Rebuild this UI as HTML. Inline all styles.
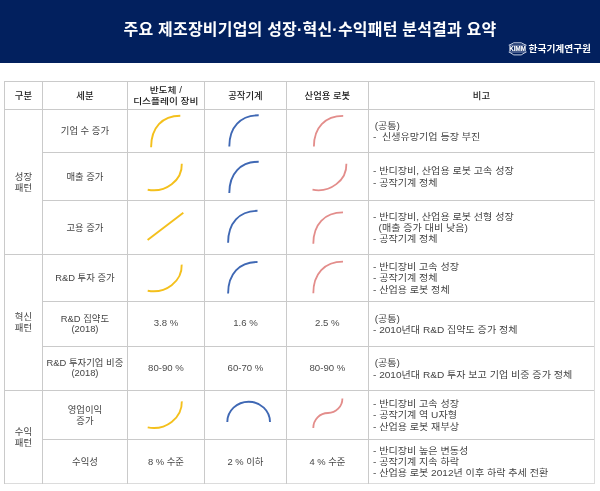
<!DOCTYPE html>
<html lang="ko"><head><meta charset="utf-8"><title>주요 제조장비기업의 성장·혁신·수익패턴 분석결과 요약</title>
<style>
html,body{margin:0;padding:0;background:#fff;}
body{width:600px;height:491px;position:relative;overflow:hidden;font-family:"Liberation Sans","Noto Sans CJK KR",sans-serif;color:#3a3a3a;}
.hdr{position:absolute;left:0;top:0;width:600px;height:62.8px;background:#02205e;}
.title{position:absolute;left:0;top:14.6px;width:620px;text-align:center;color:#fff;font-weight:700;font-size:16px;line-height:30px;white-space:nowrap;letter-spacing:0.2px;}
.logo{position:absolute;left:528.6px;top:39px;color:#fff;font-weight:700;font-size:9.7px;line-height:20px;white-space:nowrap;letter-spacing:0;transform:scale(1.0,0.93);transform-origin:0 60%;}
.c{position:absolute;display:flex;align-items:center;justify-content:center;text-align:center;font-size:9.4px;line-height:11.2px;white-space:nowrap;font-weight:400;color:#444;padding-top:0.4px;box-sizing:border-box;}
.h{font-weight:500;color:#1c1c1c;font-size:9.35px;padding-top:2px;}
.h2 div{transform:translate(-0.6px,0.5px) scale(1.04,0.885);line-height:13px;}
.v div{position:relative;top:-0.9px;font-size:9.6px;color:#4c4c4c;}
.u{position:relative;top:-1.2px;}
.p{padding-left:1.6px;}
.n{position:absolute;display:flex;align-items:center;justify-content:flex-start;text-align:left;font-size:9.4px;line-height:11.2px;white-space:pre;font-weight:400;color:#444;padding-top:0.6px;box-sizing:border-box;transform:scaleX(1.075);transform-origin:0 50%;}
svg{position:absolute;left:0;top:0;}
</style></head><body>

<div class="hdr"></div>
<div class="title">주요 제조장비기업의 성장·혁신·수익패턴 분석결과 요약</div>
<div class="logo">한국기계연구원</div>
<svg width="600" height="491" viewBox="0 0 600 491" fill="none">
<rect x="4" y="81" width="591" height="1" fill="#cacaca"/>
<rect x="4" y="109" width="591" height="1" fill="#cacaca"/>
<rect x="42" y="152" width="553" height="1" fill="#cacaca"/>
<rect x="42" y="200" width="553" height="1" fill="#cacaca"/>
<rect x="4" y="254" width="591" height="1" fill="#cacaca"/>
<rect x="42" y="301" width="553" height="1" fill="#cacaca"/>
<rect x="42" y="346" width="553" height="1" fill="#cacaca"/>
<rect x="4" y="390" width="591" height="1" fill="#cacaca"/>
<rect x="42" y="439" width="553" height="1" fill="#cacaca"/>
<rect x="4" y="483" width="591" height="1" fill="#dcdcdc"/>
<rect x="4" y="81" width="1" height="403" fill="#cacaca"/>
<rect x="42" y="81" width="1" height="403" fill="#cacaca"/>
<rect x="127" y="81" width="1" height="403" fill="#cacaca"/>
<rect x="204" y="81" width="1" height="403" fill="#cacaca"/>
<rect x="286" y="81" width="1" height="403" fill="#cacaca"/>
<rect x="368" y="81" width="1" height="403" fill="#cacaca"/>
<rect x="594" y="81" width="1" height="403" fill="#dcdcdc"/>
<path d="M151.1,147.2 C151.10,127.73 162.20,115.80 180.3,115.8" stroke="#f4c01c" stroke-width="1.9" stroke-linecap="butt"/>
<path d="M229.3,146.5 C229.30,127.16 240.47,115.30 258.7,115.3" stroke="#3f68b4" stroke-width="1.9" stroke-linecap="butt"/>
<path d="M313.9,146.5 C313.90,127.53 325.03,115.90 343.2,115.9" stroke="#e38d8b" stroke-width="1.8" stroke-linecap="butt"/>
<path d="M147.7,189.7 A28.3,25.8 0 0 0 181.8,163.7" stroke="#f4c01c" stroke-width="1.9" stroke-linecap="butt"/>
<path d="M229.3,192.9 C229.30,173.56 240.47,161.70 258.7,161.7" stroke="#3f68b4" stroke-width="1.9" stroke-linecap="butt"/>
<path d="M312.5,189.7 A28.3,25.8 0 0 0 346.4,163.7" stroke="#e38d8b" stroke-width="1.8" stroke-linecap="butt"/>
<path d="M147.6,240.1 L183.3,212.7" stroke="#f4c01c" stroke-width="1.9" stroke-linecap="butt"/>
<path d="M228.1,242.8 C228.10,222.96 239.27,210.80 257.5,210.8" stroke="#3f68b4" stroke-width="1.9" stroke-linecap="butt"/>
<path d="M313.3,243.7 C313.30,224.29 324.59,212.40 343,212.4" stroke="#e38d8b" stroke-width="1.8" stroke-linecap="butt"/>
<path d="M147.7,290.7 A28.3,25.8 0 0 0 181.7,264.6" stroke="#f4c01c" stroke-width="1.9" stroke-linecap="butt"/>
<path d="M228.1,293.5 C228.10,273.97 239.27,262.00 257.5,262" stroke="#3f68b4" stroke-width="1.9" stroke-linecap="butt"/>
<path d="M313.3,293.3 C313.30,273.65 324.59,261.60 343,261.6" stroke="#e38d8b" stroke-width="1.8" stroke-linecap="butt"/>
<path d="M147.7,427.4 A28.3,25.8 0 0 0 181.8,401.4" stroke="#f4c01c" stroke-width="1.9" stroke-linecap="butt"/>
<path d="M227.3,422 A21.35,20.3 0 0 1 270,422" stroke="#3f68b4" stroke-width="1.9" stroke-linecap="butt"/>
<path d="M313.3,428 A14.7,15 0 0 1 328,413 A14.4,14.6 0 0 0 342.4,398.4" stroke="#e38d8b" stroke-width="1.8" stroke-linecap="butt"/>
<g><path d="M509,45.3 L513.8,42.8 L521.2,42.8 L526.2,45.3 M509,51.9 L513.8,54.9 L521.2,54.9 L526.2,51.9" stroke="#dfe5f3" stroke-width="0.9" stroke-linejoin="round"/><path d="M508.6,45.2 H526.6 M508.6,52 H526.6" stroke="#c5cde4" stroke-width="0.7"/><text x="517.6" y="51.25" text-anchor="middle" font-family="Liberation Sans, sans-serif" font-weight="700" font-size="7.6" fill="#fff" stroke="#fff" stroke-width="0.2" textLength="16.6" lengthAdjust="spacingAndGlyphs">KIMM</text></g>
</svg>
<div class="c h" style="left:4.4px;top:81.4px;width:38.1px;height:27.9px;"><div>구분</div></div>
<div class="c h" style="left:42.5px;top:81.4px;width:84.9px;height:27.9px;"><div>세분</div></div>
<div class="c h h2" style="left:127.4px;top:81.4px;width:77.1px;height:27.9px;"><div>반도체 /<br>디스플레이 장비</div></div>
<div class="c h" style="left:204.5px;top:81.4px;width:81.9px;height:27.9px;"><div>공작기계</div></div>
<div class="c h" style="left:286.4px;top:81.4px;width:82.0px;height:27.9px;"><div>산업용 로봇</div></div>
<div class="c h" style="left:368.4px;top:81.4px;width:226.1px;height:27.9px;"><div>비고</div></div>
<div class="c" style="left:4.4px;top:109.3px;width:38.1px;height:144.9px;"><div>성장<br>패턴</div></div>
<div class="c" style="left:4.4px;top:254.2px;width:38.1px;height:136.2px;"><div>혁신<br>패턴</div></div>
<div class="c" style="left:4.4px;top:390.4px;width:38.1px;height:93.4px;"><div>수익<br>패턴</div></div>
<div class="c" style="left:42.5px;top:109.3px;width:84.9px;height:43.1px;"><div>기업 수 증가</div></div>
<div class="c" style="left:42.5px;top:152.4px;width:84.9px;height:48.0px;"><div>매출 증가</div></div>
<div class="c" style="left:42.5px;top:200.4px;width:84.9px;height:53.8px;"><div>고용 증가</div></div>
<div class="c" style="left:42.5px;top:254.2px;width:84.9px;height:47.0px;"><div>R&amp;D 투자 증가</div></div>
<div class="c" style="left:42.5px;top:301.2px;width:84.9px;height:45.1px;"><div>R&amp;D 집약도<br><span class="u">(2018)</span></div></div>
<div class="c" style="left:42.5px;top:346.3px;width:84.9px;height:44.1px;"><div>R&amp;D 투자기업 비중<br><span class="u">(2018)</span></div></div>
<div class="c" style="left:42.5px;top:390.4px;width:84.9px;height:48.8px;"><div>영업이익<br>증가</div></div>
<div class="c" style="left:42.5px;top:439.2px;width:84.9px;height:44.6px;"><div>수익성</div></div>
<div class="c v" style="left:127.4px;top:301.2px;width:77.1px;height:45.1px;"><div>3.8 %</div></div>
<div class="c v" style="left:204.5px;top:301.2px;width:81.9px;height:45.1px;"><div>1.6 %</div></div>
<div class="c v" style="left:286.4px;top:301.2px;width:82.0px;height:45.1px;"><div>2.5 %</div></div>
<div class="c v" style="left:127.4px;top:346.3px;width:77.1px;height:44.1px;"><div>80-90 %</div></div>
<div class="c v" style="left:204.5px;top:346.3px;width:81.9px;height:44.1px;"><div>60-70 %</div></div>
<div class="c v" style="left:286.4px;top:346.3px;width:82.0px;height:44.1px;"><div>80-90 %</div></div>
<div class="c" style="left:127.4px;top:439.2px;width:77.1px;height:44.6px;"><div>8 % 수준</div></div>
<div class="c" style="left:204.5px;top:439.2px;width:81.9px;height:44.6px;"><div>2 % 이하</div></div>
<div class="c" style="left:286.4px;top:439.2px;width:82.0px;height:44.6px;"><div>4 % 수준</div></div>
<div class="n" style="left:373.3px;top:109.3px;width:221.1px;height:43.1px;"><div><span class="p">(공통)</span>
-  신생유망기업 등장 부진</div></div>
<div class="n" style="left:373.3px;top:152.4px;width:221.1px;height:48.0px;"><div>- 반디장비, 산업용 로봇 고속 성장
- 공작기계 정체</div></div>
<div class="n" style="left:373.3px;top:200.4px;width:221.1px;height:53.8px;"><div>- 반디장비, 산업용 로봇 선형 성장
  (매출 증가 대비 낮음)
- 공작기계 정체</div></div>
<div class="n" style="left:373.3px;top:254.2px;width:221.1px;height:47.0px;"><div>- 반디장비 고속 성장
- 공작기계 정체
- 산업용 로봇 정체</div></div>
<div class="n" style="left:373.3px;top:301.2px;width:221.1px;height:45.1px;"><div><span class="p">(공통)</span>
- 2010년대 R&amp;D 집약도 증가 정체</div></div>
<div class="n" style="left:373.3px;top:346.3px;width:221.1px;height:44.1px;"><div><span class="p">(공통)</span>
- 2010년대 R&amp;D 투자 보고 기업 비중 증가 정체</div></div>
<div class="n" style="left:373.3px;top:390.4px;width:221.1px;height:48.8px;"><div>- 반디장비 고속 성장
- 공작기계 역 U자형
- 산업용 로봇 재부상</div></div>
<div class="n" style="left:373.3px;top:439.2px;width:221.1px;height:44.6px;"><div>- 반디장비 높은 변동성
- 공작기계 지속 하락
- 산업용 로봇 2012년 이후 하락 추세 전환</div></div>
</body></html>
